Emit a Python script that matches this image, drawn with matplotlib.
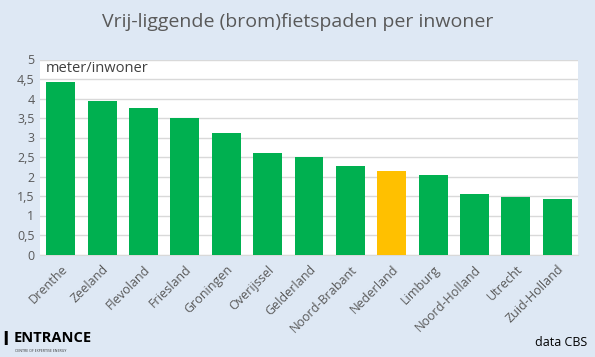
import matplotlib.pyplot as plt
import numpy as np

provincies = ["Drenthe", "Zeeland", "Flevoland", "Friesland", "Groningen", "Overijssel",
              "Gelderland", "Noord-Brabant", "Nederland", "Limburg", "Noord-Holland",
              "Utrecht", "Zuid-Holland"]
meter_per_inwoner = [4.42, 3.94, 3.76, 3.50, 3.12, 2.60, 2.50, 2.27, 2.14, 2.04, 1.55, 1.47, 1.42]
yticks = [0, 0.5, 1, 1.5, 2, 2.5, 3, 3.5, 4, 4.5, 5]
ytick_labels = ["0", "0,5", "1", "1,5", "2", "2,5", "3", "3,5", "4", "4,5", "5"]

plt.rcParams['font.family'] = ['Open Sans', 'DejaVu Sans']
bg = "#DEE8F4"
grijs = "#595959"

fig = plt.figure(figsize=(5.95, 3.57), dpi=100, facecolor=bg)
ax = fig.add_axes([40/595, 1-254.5/357, 538/595, 195/357])
ax.set_facecolor("white")

kleuren = ["#FFC000" if p == "Nederland" else "#00B050" for p in provincies]
x = np.arange(len(provincies))
ax.bar(x, meter_per_inwoner, width=0.7, color=kleuren, zorder=3)

ax.set_xlim(-0.5, len(provincies) - 0.5)
ax.set_ylim(0, 5)
ax.set_yticks(yticks)
ax.set_yticklabels(ytick_labels, fontsize=9, color=grijs)
ax.set_xticks(x)
ax.set_xticklabels(provincies, rotation=45, ha="right", rotation_mode="anchor",
                   fontsize=9, color=grijs)
ax.tick_params(axis="both", length=0, pad=4)
ax.tick_params(axis="x", pad=6)
ax.grid(axis="y", color="#D9D9D9", linewidth=1, zorder=0)
for s in ["top", "right", "left"]:
    ax.spines[s].set_visible(False)
ax.spines["bottom"].set_color("#D9D9D9")

ax.text(0.011, 0.955, "meter/inwoner", transform=ax.transAxes, fontsize=10.5,
        color="#404040", va="center", ha="left", zorder=4)

fig.text(0.5, 1-22/357, "Vrij-liggende (brom)fietspaden per inwoner", ha="center",
         va="center", fontsize=14, color=grijs)

# logo en bron
fig.text(2/595, 1-340/357, "I", fontsize=14, fontweight="bold", color="black", va="center")
fig.text(14/595, 1-338/357, "ENTRANCE", fontsize=10.5, fontweight="bold", color="black", va="center")
fig.text(15/595, 1-351/357, "CENTRE OF EXPERTISE ENERGY", fontsize=2.5, color="#333333", va="center")
fig.text(587/595, 1-343/357, "data CBS", fontsize=9, color="black", ha="right", va="center")

fig.savefig("out.png", dpi=100, facecolor=bg)
